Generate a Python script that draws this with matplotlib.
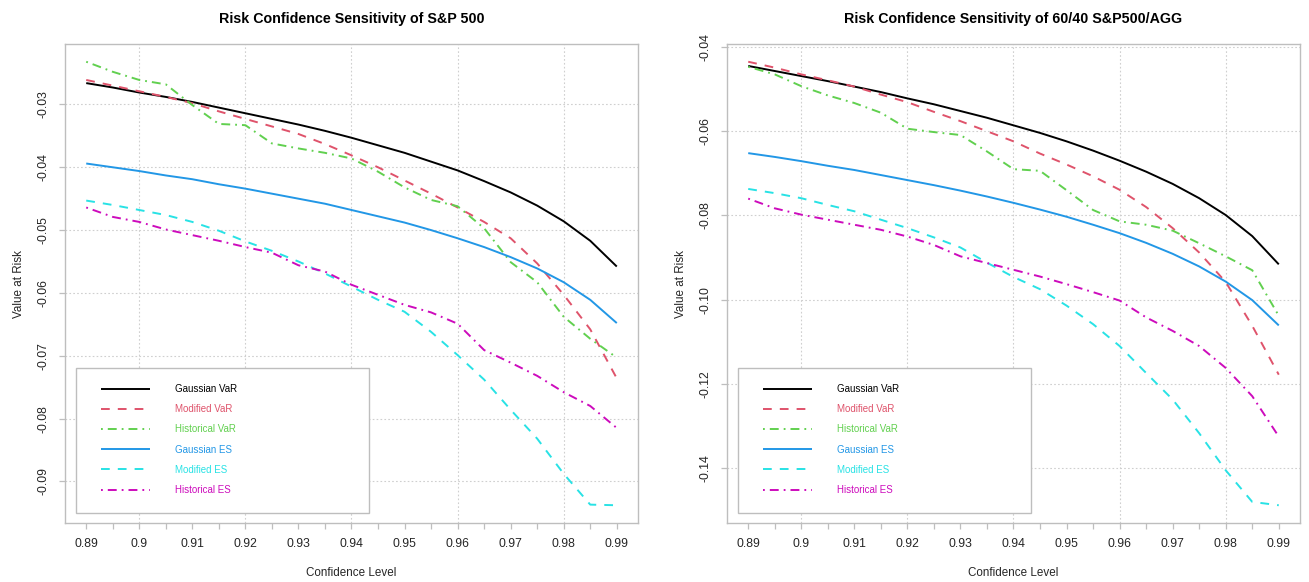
import matplotlib
matplotlib.use('Agg')
import matplotlib.pyplot as plt
from matplotlib.ticker import FixedLocator, FixedFormatter, MultipleLocator, FormatStrFormatter
from matplotlib.patches import Rectangle

plt.rcParams['font.family'] = ['Liberation Sans', 'DejaVu Sans']
plt.rcParams['lines.scale_dashes'] = False

# ---------------- data ----------------
conf = [0.89, 0.895, 0.90, 0.905, 0.91, 0.915, 0.92, 0.925, 0.93, 0.935, 0.94,
        0.945, 0.95, 0.955, 0.96, 0.965, 0.97, 0.975, 0.98, 0.985, 0.99]

series_names = ["Gaussian VaR", "Modified VaR", "Historical VaR",
                "Gaussian ES", "Modified ES", "Historical ES"]

titles = ["Risk Confidence Sensitivity of S&P 500",
          "Risk Confidence Sensitivity of 60/40 S&P500/AGG"]

spx_gauss_var = [-0.0266, -0.0273, -0.0281, -0.0288, -0.0296, -0.0305, -0.0314, -0.0323, -0.0332, -0.0342, -0.0353,
                 -0.0365, -0.0377, -0.0391, -0.0405, -0.0422, -0.0440, -0.0461, -0.0486, -0.0517, -0.0558]
spx_mod_var = [-0.0261, -0.0270, -0.0279, -0.0288, -0.0298, -0.0311, -0.0323, -0.0335, -0.0347, -0.0363, -0.0381,
               -0.0400, -0.0421, -0.0442, -0.0464, -0.0487, -0.0513, -0.0553, -0.0603, -0.0658, -0.0736]
spx_hist_var = [-0.0232, -0.0248, -0.0261, -0.0268, -0.0301, -0.0331, -0.0333, -0.0362, -0.0370, -0.0377, -0.0386,
                -0.0407, -0.0432, -0.0452, -0.0462, -0.0497, -0.0551, -0.0583, -0.0638, -0.0673, -0.0703]
spx_gauss_es = [-0.0394, -0.0400, -0.0406, -0.0413, -0.0419, -0.0427, -0.0434, -0.0442, -0.0450, -0.0458, -0.0468,
                -0.0478, -0.0488, -0.0500, -0.0513, -0.0527, -0.0543, -0.0561, -0.0583, -0.0611, -0.0648]
spx_mod_es = [-0.0453, -0.0460, -0.0468, -0.0476, -0.0487, -0.0501, -0.0518, -0.0533, -0.0550, -0.0569, -0.0590,
              -0.0611, -0.0630, -0.0662, -0.0699, -0.0738, -0.0786, -0.0832, -0.0888, -0.0937, -0.0938]
spx_hist_es = [-0.0464, -0.0479, -0.0487, -0.0499, -0.0508, -0.0517, -0.0527, -0.0536, -0.0556, -0.0566, -0.0587,
               -0.0603, -0.0619, -0.0631, -0.0649, -0.0691, -0.0711, -0.0732, -0.0758, -0.0780, -0.0815]

bal_gauss_var = [-0.0445, -0.0457, -0.0469, -0.0481, -0.0494, -0.0507, -0.0522, -0.0536, -0.0552, -0.0568, -0.0586,
                 -0.0604, -0.0624, -0.0646, -0.0670, -0.0696, -0.0725, -0.0759, -0.0799, -0.0849, -0.0916]
bal_mod_var = [-0.0435, -0.0449, -0.0465, -0.0479, -0.0494, -0.0513, -0.0531, -0.0554, -0.0576, -0.0600, -0.0624,
               -0.0653, -0.0679, -0.0707, -0.0739, -0.0780, -0.0830, -0.0888, -0.0958, -0.1062, -0.1178]
bal_hist_var = [-0.0447, -0.0465, -0.0493, -0.0515, -0.0533, -0.0556, -0.0594, -0.0602, -0.0609, -0.0648, -0.0690,
                -0.0694, -0.0740, -0.0787, -0.0814, -0.0822, -0.0836, -0.0866, -0.0897, -0.0930, -0.1038]
bal_gauss_es = [-0.0652, -0.0661, -0.0671, -0.0682, -0.0692, -0.0704, -0.0716, -0.0728, -0.0741, -0.0755, -0.0770,
                -0.0786, -0.0803, -0.0822, -0.0842, -0.0865, -0.0891, -0.0921, -0.0957, -0.1001, -0.1061]
bal_mod_es = [-0.0737, -0.0747, -0.0759, -0.0775, -0.0790, -0.0810, -0.0830, -0.0852, -0.0876, -0.0912, -0.0946,
              -0.0975, -0.1014, -0.1058, -0.1110, -0.1174, -0.1237, -0.1317, -0.1405, -0.1480, -0.1488]
bal_hist_es = [-0.0760, -0.0783, -0.0798, -0.0810, -0.0822, -0.0834, -0.0850, -0.0870, -0.0897, -0.0913, -0.0929,
               -0.0945, -0.0963, -0.0982, -0.1002, -0.1042, -0.1074, -0.1110, -0.1162, -0.1229, -0.1325]

# ---------------- style ----------------
colors = ['#000000', '#DF536B', '#61D04F', '#2297E6', '#28E2E5', '#CD0BBC']
DASH = (0, (6.3, 5.8))
DOTDASH = (0, (1.3, 3.6, 6.4, 3.6))
linestyles = ['-', DASH, DOTDASH, '-', DASH, DOTDASH]
GRAY = '#BEBEBE'
GRID = '#CFCFCF'
TXT = '#262626'

W, H = 1309, 582
fig = plt.figure(figsize=(W / 100, H / 100), dpi=100)
ax_w, ax_h = 573, 479
axes = [fig.add_axes([65 / W, 1 - 523 / H, ax_w / W, ax_h / H]),
        fig.add_axes([727 / W, 1 - 523 / H, ax_w / W, ax_h / H])]

panels = [
    [spx_gauss_var, spx_mod_var, spx_hist_var, spx_gauss_es, spx_mod_es, spx_hist_es],
    [bal_gauss_var, bal_mod_var, bal_hist_var, bal_gauss_es, bal_mod_es, bal_hist_es],
]
ystep = [0.01, 0.02]

xlabels = [('%g' % c) if round(c * 1000) % 10 == 0 else '' for c in conf]

for ax, data, title, ys in zip(axes, panels, titles, ystep):
    handles = []
    for vals, col, ls, name in zip(data, colors, linestyles, series_names):
        h, = ax.plot(conf, vals, color=col, linestyle=ls, lw=1.4, label=name,
                     solid_capstyle='butt', dash_capstyle='butt')
        handles.append(h)
    ax.margins(x=0.04, y=0.04)

    ax.xaxis.remove_overlapping_locs = False
    ax.xaxis.set_major_locator(FixedLocator(conf))
    ax.xaxis.set_major_formatter(FixedFormatter(xlabels))
    ax.xaxis.set_minor_locator(MultipleLocator(0.02))
    ax.yaxis.set_major_locator(MultipleLocator(ys))
    ax.yaxis.set_major_formatter(FormatStrFormatter('%.2f'))

    ax.grid(which='minor', axis='x', color=GRID, linestyle=(0, (1.2, 1.6)), lw=0.8)
    ax.grid(which='major', axis='y', color=GRID, linestyle=(0, (1.2, 1.6)), lw=0.8)
    ax.grid(which='major', axis='x', visible=False)
    ax.set_axisbelow(True)

    for sp in ax.spines.values():
        sp.set_color(GRAY)
        sp.set_linewidth(1.0)

    ax.tick_params(axis='x', which='major', length=4.5, width=0.9, color=GRAY,
                   labelsize=8.8, labelcolor=TXT, pad=6)
    ax.tick_params(axis='x', which='minor', length=0)
    ax.tick_params(axis='y', which='major', length=4.5, width=0.9, color=GRAY,
                   labelsize=8.8, labelcolor=TXT, pad=6.5, labelrotation=90)
    for lab in ax.get_yticklabels():
        lab.set_va('center')

    ax.set_title(title, fontsize=10.3, fontweight='bold', color='#000000', pad=15)
    ax.set_xlabel('Confidence Level', fontsize=8.4, color=TXT, va='center')
    ax.xaxis.set_label_coords(0.5, -50 / ax_h)
    ax.set_ylabel('Value at Risk', fontsize=8.4, color=TXT, va='center')
    ax.yaxis.set_label_coords(-46 / ax_w, 0.5)

    # legend box
    ax.add_patch(Rectangle((11 / ax_w, 10 / ax_h), 293 / ax_w, 145 / ax_h,
                           transform=ax.transAxes, facecolor='white',
                           edgecolor=GRAY, lw=1.0, zorder=5))
    leg = ax.legend(handles=handles, loc='upper left',
                    bbox_to_anchor=(36 / ax_w, (523 - 384) / ax_h),
                    frameon=False, fontsize=7, handlelength=5.0,
                    handletextpad=2.6, labelspacing=1.05, borderpad=0,
                    borderaxespad=0)
    leg.set_zorder(6)
    for txt, col in zip(leg.get_texts(), colors):
        txt.set_color(col)

fig.savefig('out.png', dpi=100)
